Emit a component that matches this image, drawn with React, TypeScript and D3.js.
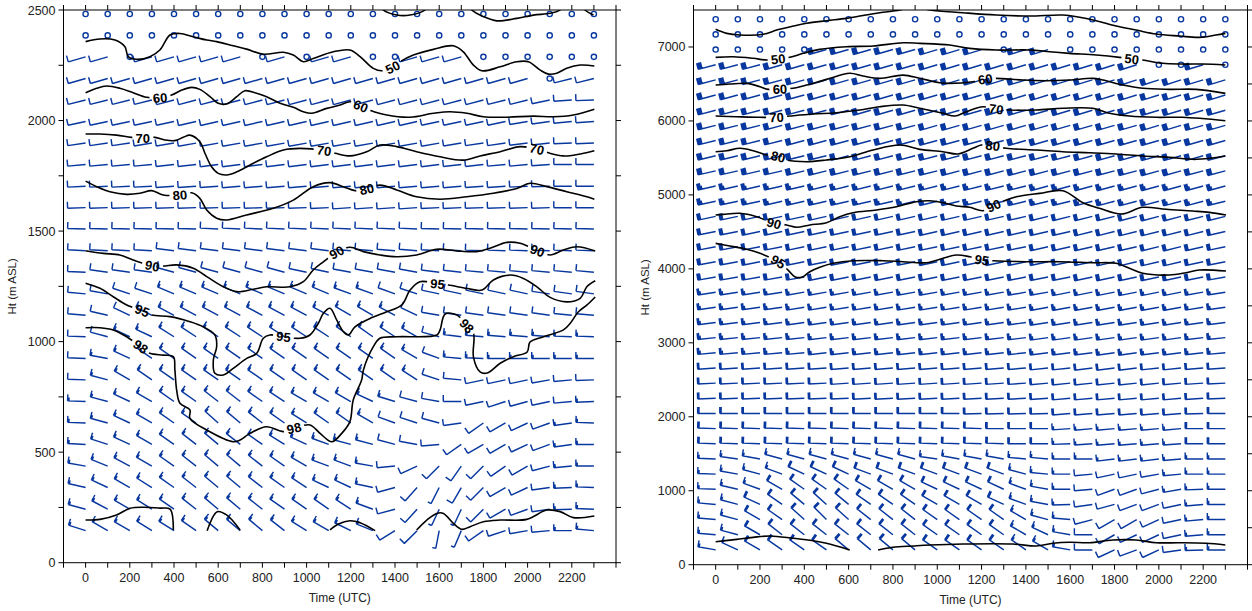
import React from 'react';
import * as d3 from 'd3';

const W = 1252, H = 611;
const TIMES = [0,100,200,300,400,500,600,700,800,900,1000,1100,1200,1300,1400,1500,1600,1700,1800,1900,2000,2100,2200,2300];
const X_LABELS = [0,200,400,600,800,1000,1200,1400,1600,1800,2000,2200];
const L_Y_LABELS = [0,500,1000,1500,2000,2500];
const R_Y_LABELS = [0,1000,2000,3000,4000,5000,6000,7000];

// ---------- Left panel (lower profiler) ----------
const L_HEIGHTS = [145,242,340,437,535,632,729,827,924,1022,1119,1216,1314,1411,1509,1606,1703,1801,1898,1996,2093,2190,2288,2385,2482];
const L_DIR = [
[288,300,300,302,302,305,310,310,310,308,302,300,296,292,238,225,191,203,235,252,260,265,270,275],
[285,298,300,302,305,308,310,310,308,305,305,305,303,290,255,222,205,205,225,240,250,262,268,272],
[283,295,300,302,305,308,310,310,308,305,303,295,295,282,255,222,207,210,225,240,245,262,268,272],
[280,292,298,300,305,308,310,310,308,305,300,290,290,280,265,245,225,215,225,235,240,255,265,270],
[273,288,295,300,305,308,310,308,305,302,295,290,285,285,285,280,265,235,240,240,245,250,262,270],
[272,285,295,300,305,305,312,310,308,305,302,305,305,300,290,288,285,262,235,240,245,250,262,272],
[272,285,295,300,305,305,308,308,305,303,300,300,300,295,287,285,280,270,258,252,255,258,265,268],
[272,285,300,305,305,305,305,305,305,305,305,305,305,305,305,303,288,275,258,258,258,260,265,268],
[272,280,295,305,305,305,305,305,305,305,305,305,305,305,305,300,290,275,272,270,270,270,270,270],
[272,285,295,295,302,303,303,303,303,303,303,303,305,305,303,300,285,277,275,275,275,275,272,272],
[275,283,295,297,298,298,298,298,298,298,298,298,300,300,298,295,280,278,278,278,278,278,276,275],
[275,280,288,288,293,293,293,293,293,293,293,293,290,290,290,288,282,282,282,282,282,278,278,278],
[272,278,278,278,285,285,285,285,285,285,282,282,280,280,280,280,277,276,275,275,275,275,275,275],
[273,273,273,273,277,277,277,277,277,277,277,277,275,275,275,275,273,273,272,272,272,272,272,272],
[272,272,272,272,272,272,273,273,273,273,273,273,273,273,273,273,272,272,272,272,272,272,272,272],
[268,268,268,268,268,268,268,268,268,268,268,267,266,266,266,266,267,267,268,268,268,268,270,270],
[267,267,267,267,266,266,266,265,265,265,265,265,265,265,265,265,265,265,266,266,267,268,270,270],
[265,265,265,265,264,264,263,263,263,263,263,263,263,263,263,263,263,264,264,265,265,266,270,270],
[262,262,262,261,261,260,260,260,260,260,260,260,260,260,260,260,260,261,262,262,263,264,268,268],
[258,258,258,258,258,257,257,257,257,257,257,257,257,257,257,257,258,258,258,258,260,262,264,266],
[256,256,256,256,255,255,255,255,255,255,255,255,255,255,255,255,255,255,255,256,256,258,266,268],
[254,254,254,254,254,254,254,254,254,254,254,254,254,254,254,254,254,254,254,254,254,0,256,256],
[254,254,0,254,254,254,254,254,0,254,0,254,254,0,0,254,254,254,0,0,0,0,0,0],
[0,0,0,0,0,0,0,0,0,0,0,0,0,0,0,0,0,0,0,0,0,0,0,0],
[0,0,0,0,0,0,0,0,0,0,0,0,0,0,0,0,0,0,0,0,0,0,0,0],
];
const L_SPD = [
[15,15,15,15,15,15,15,15,15,15,15,15,15,15,10,10,5,5,10,10,10,10,15,15],
[15,15,15,15,15,15,15,15,15,15,15,15,15,15,10,10,5,5,10,10,10,10,15,15],
[15,15,15,15,15,15,15,15,15,15,15,15,15,15,10,10,5,10,10,10,10,10,15,15],
[15,15,15,15,15,15,15,15,15,15,15,15,15,15,10,10,10,10,10,10,10,10,15,15],
[15,15,15,15,15,15,15,15,15,15,15,15,15,15,10,10,10,10,10,10,10,10,15,15],
[15,15,15,15,15,15,15,15,15,15,15,15,15,15,10,10,10,10,10,10,10,10,15,15],
[15,15,15,15,15,15,15,15,15,15,15,15,15,15,15,10,10,10,10,10,10,10,10,15],
[10,15,15,15,15,15,15,15,15,15,15,15,15,15,15,15,10,10,10,10,10,10,10,10],
[10,15,15,15,15,15,15,15,15,15,15,15,15,15,15,15,10,15,15,15,15,15,15,15],
[10,10,15,15,15,15,15,15,15,15,15,15,15,15,15,15,10,15,15,15,15,15,15,15],
[10,10,10,15,15,15,15,15,15,15,15,15,15,15,15,10,10,10,10,10,10,10,10,10],
[10,10,10,10,15,15,15,15,15,15,15,15,15,15,10,10,10,10,10,10,10,10,10,10],
[10,10,10,10,10,10,10,10,10,10,10,10,10,10,10,10,10,10,10,10,10,10,10,10],
[10,10,10,10,10,10,10,10,10,10,10,10,10,10,10,10,10,10,10,10,10,10,10,10],
[10,10,10,10,10,10,10,10,10,10,10,10,10,10,10,10,10,10,10,10,10,10,10,10],
[10,10,10,10,10,10,10,10,10,10,10,10,10,10,10,10,10,10,10,10,10,10,10,10],
[10,10,10,10,10,10,10,10,10,10,10,10,10,10,10,10,10,10,10,10,10,10,10,10],
[10,10,10,10,10,10,10,10,10,10,10,10,10,10,10,10,10,10,10,10,10,10,10,10],
[10,10,10,10,10,10,10,10,10,10,10,10,10,10,10,10,10,10,10,10,10,10,10,10],
[10,10,10,10,10,10,10,10,10,10,10,10,10,10,10,10,10,10,10,10,10,10,10,10],
[10,10,10,10,10,10,10,10,10,10,10,10,10,10,10,10,10,10,10,10,10,10,10,10],
[10,10,10,10,10,10,10,10,10,10,10,10,10,10,10,10,10,10,10,10,10,0,10,10],
[10,10,0,10,10,10,10,10,0,10,0,10,10,0,0,10,10,10,0,0,0,0,0,0],
[0,0,0,0,0,0,0,0,0,0,0,0,0,0,0,0,0,0,0,0,0,0,0,0],
[0,0,0,0,0,0,0,0,0,0,0,0,0,0,0,0,0,0,0,0,0,0,0,0],
];

// Left contours [time, height]
const L_C40A = [[1332,2523],[1347,2500],[1408,2477],[1468,2477],[1536,2500],[1550,2523]];
const L_C40B = [[1731,2523],[1747,2500],[1800,2470],[1861,2451],[1951,2462],[2026,2477],[2102,2485],[2147,2500],[2160,2523]];
const L_C40C = [[2247,2523],[2260,2500],[2298,2477]];
const L_C50 = [[0,2357],[65,2369],[133,2364],[178,2334],[193,2289],[231,2277],[291,2289],[336,2319],[382,2387],[427,2394],[487,2379],[548,2364],[593,2357],[668,2338],[729,2323],[804,2300],[895,2309],[940,2296],[985,2266],[1030,2281],[1121,2311],[1196,2319],[1242,2289],[1302,2236],[1340,2225],[1389,2241],[1423,2266],[1483,2296],[1574,2322],[1664,2338],[1709,2311],[1755,2251],[1793,2225],[1876,2243],[1951,2266],[2004,2266],[2057,2228],[2094,2210],[2132,2214],[2177,2236],[2238,2251],[2302,2247]];
const L_C60 = [[0,2126],[50,2146],[95,2156],[155,2146],[215,2126],[276,2105],[337,2103],[389,2115],[435,2138],[480,2150],[517,2141],[563,2108],[600,2078],[638,2075],[684,2108],[721,2135],[774,2123],[819,2108],[880,2078],[940,2060],[985,2040],[1023,2033],[1091,2055],[1151,2070],[1196,2085],[1245,2065],[1287,2047],[1363,2025],[1468,2015],[1574,2033],[1649,2040],[1725,2033],[1800,2017],[1906,2015],[2026,2020],[2117,2017],[2207,2025],[2302,2051]];
const L_C70 = [[0,1939],[65,1939],[140,1934],[208,1924],[259,1921],[314,1924],[359,1912],[404,1909],[442,1924],[472,1934],[517,1904],[540,1852],[570,1791],[600,1761],[638,1754],[684,1768],[744,1799],[819,1836],[895,1867],[970,1874],[1079,1864],[1129,1852],[1196,1840],[1272,1859],[1332,1889],[1408,1882],[1498,1859],[1604,1836],[1709,1821],[1785,1840],[1876,1859],[1966,1882],[2042,1871],[2094,1854],[2162,1840],[2238,1849],[2302,1863]];
const L_C80 = [[0,1726],[50,1701],[110,1678],[186,1666],[246,1671],[299,1683],[351,1663],[427,1663],[480,1673],[517,1648],[548,1595],[593,1558],[638,1550],[729,1573],[849,1603],[940,1640],[1030,1701],[1106,1719],[1166,1701],[1219,1683],[1272,1690],[1332,1708],[1408,1686],[1498,1655],[1604,1644],[1725,1655],[1845,1671],[1951,1693],[2011,1716],[2087,1701],[2177,1678],[2268,1655],[2302,1644]];
const L_C90 = [[0,1411],[80,1399],[155,1392],[215,1369],[302,1343],[351,1342],[412,1347],[487,1332],[548,1294],[623,1248],[684,1226],[759,1237],[819,1248],[925,1248],[985,1271],[1030,1324],[1076,1361],[1136,1404],[1196,1427],[1257,1407],[1332,1392],[1408,1384],[1498,1392],[1589,1418],[1680,1410],[1770,1407],[1830,1422],[1906,1449],[1966,1445],[2045,1411],[2102,1392],[2162,1414],[2223,1429],[2306,1410]];
const L_C95 = [[0,1264],[65,1241],[125,1203],[186,1166],[256,1140],[299,1120],[382,1113],[472,1090],[532,1067],[585,1030],[593,977],[578,917],[585,857],[623,849],[668,879],[729,924],[774,947],[804,1015],[834,1030],[895,1022],[970,1015],[1015,1030],[1053,1083],[1076,1128],[1106,1151],[1136,1098],[1166,1045],[1189,1030],[1219,1067],[1287,1105],[1363,1135],[1431,1166],[1468,1233],[1513,1271],[1592,1261],[1641,1256],[1725,1241],[1793,1233],[1845,1279],[1921,1301],[1981,1286],[2042,1248],[2102,1200],[2177,1180],[2238,1196],[2268,1248],[2306,1275]];
const L_C98 = [[0,1063],[65,1063],[125,1053],[186,1022],[249,977],[291,947],[351,939],[397,932],[404,872],[412,781],[427,721],[472,691],[472,653],[548,600],[668,547],[699,555],[744,585],[819,615],[895,593],[943,608],[1015,623],[1061,585],[1114,547],[1159,585],[1196,638],[1211,736],[1249,826],[1257,872],[1302,977],[1332,1015],[1408,1022],[1590,1030],[1604,1053],[1627,1125],[1681,1120],[1725,1071],[1755,1038],[1755,930],[1785,863],[1817,858],[1876,902],[1936,932],[1998,953],[2011,998],[2072,1022],[2162,1053],[2193,1083],[2229,1134],[2269,1166],[2306,1202]];
const L_CB1 = [[0,193],[65,196],[140,216],[201,246],[261,251],[336,247],[382,242],[397,148]];
const L_CB2 = [[550,145],[596,231],[638,216],[699,148]];
const L_CB3 = [[1106,148],[1144,175],[1196,190],[1242,181],[1310,145]];
const L_CB4 = [[1498,148],[1544,193],[1589,223],[1619,223],[1664,178],[1702,151],[1740,163],[1800,185],[1876,193],[1996,196],[2087,238],[2147,231],[2207,204],[2302,211]];

// ---------- Right panel (upper profiler) ----------
const R_HEIGHTS = [200,405,610,815,1020,1225,1430,1635,1840,2045,2250,2455,2660,2865,3070,3275,3480,3685,3890,4095,4300,4505,4710,4915,5120,5325,5530,5735,5940,6145,6350,6555,6760,6965,7170,7375];
const R_DIR = [
[280,295,300,305,305,305,310,310,310,310,305,305,305,305,305,300,280,270,245,250,245,262,268,270],
[275,285,300,308,308,308,308,308,308,308,305,305,305,305,300,295,280,270,240,245,245,258,265,270],
[275,285,300,305,312,315,312,308,308,308,305,305,305,305,300,285,275,255,240,240,245,258,265,270],
[275,285,295,305,310,312,310,305,305,305,300,300,300,295,290,280,268,262,255,250,250,258,265,270],
[272,283,290,300,305,305,305,300,300,300,295,295,295,295,290,280,270,265,250,250,255,260,268,270],
[272,280,285,290,295,295,295,290,290,290,290,290,290,290,285,275,270,265,258,258,260,265,270,270],
[272,278,280,285,285,285,285,285,285,285,278,280,280,280,275,275,270,270,263,263,263,265,270,270],
[272,272,272,272,272,272,272,272,272,272,272,272,272,272,270,270,268,266,265,265,265,266,270,270],
[272,272,272,272,272,272,272,272,272,272,272,272,272,270,270,270,266,265,265,265,265,265,270,270],
[270,270,270,270,270,270,270,270,270,270,270,270,268,268,268,268,265,265,265,265,265,265,268,270],
[268,268,268,268,268,268,268,267,267,267,267,267,267,267,267,266,265,265,265,265,265,265,266,268],
[267,267,267,267,267,267,266,266,266,266,266,266,266,266,266,265,264,264,264,264,264,265,266,267],
[266,266,266,266,266,266,265,265,265,265,265,265,265,265,265,264,264,263,263,263,264,264,265,266],
[265,265,265,265,265,264,264,264,264,264,264,264,264,264,264,263,263,263,262,262,263,263,264,265],
[264,264,264,264,264,263,263,263,263,263,263,263,263,263,263,262,262,262,262,262,262,262,263,264],
[263,263,263,263,262,262,262,262,262,262,262,262,262,262,262,261,261,261,261,261,261,261,262,263],
[262,262,262,262,261,261,261,261,261,261,261,261,261,261,261,260,260,260,260,260,260,260,261,262],
[261,261,261,261,260,260,260,260,260,260,260,260,260,260,260,260,259,259,259,259,259,259,260,261],
[260,260,260,260,260,259,259,259,259,259,259,259,259,259,259,259,259,258,258,258,258,258,259,260],
[260,260,259,259,259,259,259,259,259,259,258,258,258,258,258,258,258,258,257,257,257,257,258,259],
[259,259,259,259,258,258,258,258,258,258,258,258,258,258,258,257,257,257,257,257,256,256,257,258],
[259,259,258,258,258,258,258,258,258,258,257,257,257,257,257,257,257,256,256,256,256,256,256,257],
[258,258,258,258,258,257,257,257,257,257,257,257,257,257,257,256,256,256,256,255,255,255,256,256],
[258,258,258,257,257,257,257,257,257,256,256,256,256,256,256,256,256,255,255,255,255,255,255,256],
[257,257,257,257,257,256,256,256,256,256,256,256,256,256,256,255,255,255,255,255,255,255,255,255],
[257,257,257,257,256,256,256,256,256,256,256,255,255,255,255,255,255,255,255,255,254,254,255,255],
[256,256,256,256,256,256,255,255,255,255,255,255,255,255,255,255,255,254,254,254,254,254,254,255],
[256,256,256,256,255,255,255,255,255,255,255,255,255,255,254,254,254,254,254,254,254,254,254,254],
[256,256,256,255,255,255,255,255,255,255,254,254,254,254,254,254,254,254,254,254,253,253,254,254],
[255,255,255,255,255,255,255,254,254,254,254,254,254,254,254,254,253,253,253,253,253,253,253,254],
[255,255,255,255,255,254,254,254,254,254,254,254,254,254,253,253,253,253,253,253,253,253,253,253],
[255,255,255,255,254,254,254,254,254,254,254,253,253,253,253,253,253,253,253,252,252,252,253,253],
[255,255,255,254,254,254,254,254,254,254,253,253,253,253,253,253,253,253,252,252,0,0,253,0],
[0,0,0,0,0,254,254,254,254,254,253,253,253,0,253,253,0,0,0,0,0,0,0,0],
[0,0,0,0,0,0,0,0,0,0,0,0,0,0,0,0,0,0,0,0,0,0,0,0],
[0,0,0,0,0,0,0,0,0,0,0,0,0,0,0,0,0,0,0,0,0,0,0,0],
];
const R_SPD = [
[15,15,20,20,20,20,20,20,20,20,20,20,20,20,15,15,15,10,10,10,10,10,15,15],
[15,15,20,20,20,20,20,20,20,20,20,20,20,20,15,15,15,10,10,10,10,10,15,15],
[15,15,20,20,20,20,20,20,20,20,20,20,20,20,15,15,15,10,10,10,10,10,15,15],
[15,15,20,20,20,20,20,20,20,20,20,20,20,20,15,15,15,10,10,10,10,10,15,15],
[15,15,15,20,20,20,20,20,20,20,20,20,20,20,15,15,15,10,10,10,10,15,15,15],
[15,15,15,15,20,20,20,20,20,20,20,20,20,20,15,15,15,10,10,10,10,15,15,15],
[15,15,15,15,15,15,15,15,15,15,15,15,15,15,15,15,15,15,15,15,15,15,15,15],
[20,20,20,20,20,20,20,20,20,20,20,20,20,20,20,20,15,15,15,15,15,15,20,20],
[20,20,20,20,20,20,20,20,20,20,20,20,20,20,20,20,15,15,15,15,15,15,20,20],
[20,20,20,20,20,20,20,20,20,20,20,20,20,20,20,20,20,20,20,20,20,20,20,20],
[20,20,20,20,20,20,20,20,20,20,20,20,20,20,20,20,20,20,20,20,20,20,20,20],
[20,20,20,20,20,20,20,20,20,20,20,20,20,20,20,20,20,20,20,20,20,20,20,20],
[20,20,20,20,20,20,20,20,20,20,20,20,20,20,20,20,20,20,20,20,20,20,20,20],
[25,25,25,25,25,25,25,25,25,25,25,25,25,25,25,25,25,25,25,25,25,25,25,25],
[25,25,25,25,25,25,25,25,25,25,25,25,25,25,25,25,25,25,25,25,25,25,25,25],
[25,25,25,25,25,25,25,25,25,25,25,25,25,25,25,25,25,25,25,25,25,25,25,25],
[25,25,25,25,25,25,25,25,25,25,25,25,25,25,25,25,25,25,25,25,25,25,25,25],
[25,25,25,25,25,25,25,25,25,25,25,25,25,25,25,25,25,25,25,25,25,25,25,25],
[30,30,30,30,30,30,30,30,30,30,30,30,30,30,30,30,30,30,30,30,30,30,30,30],
[30,30,30,30,30,30,30,30,30,30,30,30,30,30,30,30,30,30,30,30,30,30,30,30],
[30,30,30,30,30,30,30,30,30,30,30,30,30,30,30,30,30,30,30,30,30,30,30,30],
[30,30,30,30,30,30,30,30,30,30,30,30,30,30,30,30,30,30,30,30,30,30,30,30],
[30,30,30,30,30,30,30,30,30,30,30,30,30,30,30,30,30,30,30,30,30,30,30,30],
[35,35,35,35,35,35,35,35,35,35,35,35,35,35,35,35,35,35,35,35,35,35,35,35],
[35,35,35,35,35,35,35,35,35,35,35,35,35,35,35,35,35,35,35,35,35,35,35,35],
[40,40,40,40,40,40,40,40,40,40,40,40,40,40,40,40,40,40,40,40,40,40,40,40],
[40,40,40,40,40,40,40,40,40,40,40,40,40,40,40,40,40,40,40,40,40,40,40,40],
[40,40,40,40,40,40,40,40,40,40,40,40,40,40,40,40,40,40,40,40,40,40,40,40],
[40,40,40,40,40,40,40,40,40,40,40,40,40,40,40,40,40,40,40,40,40,40,40,40],
[40,40,40,40,40,40,40,40,40,40,40,40,40,40,40,40,40,40,40,40,40,40,40,40],
[40,40,40,40,40,40,40,40,40,40,40,40,40,40,40,40,40,40,40,40,40,40,40,40],
[40,40,40,40,40,40,40,40,40,40,40,40,40,40,40,40,40,40,40,40,40,40,40,40],
[40,40,40,40,40,40,40,40,40,40,40,40,40,40,40,40,40,40,40,40,0,0,40,0],
[0,0,0,0,0,40,40,40,40,40,40,40,40,0,40,40,0,0,0,0,0,0,0,0],
[0,0,0,0,0,0,0,0,0,0,0,0,0,0,0,0,0,0,0,0,0,0,0,0],
[0,0,0,0,0,0,0,0,0,0,0,0,0,0,0,0,0,0,0,0,0,0,0,0],
];

const R_CTOP = [[0,7239],[50,7184],[110,7162],[215,7171],[275,7229],[350,7283],[410,7320],[500,7355],[590,7387],[650,7418],[740,7463],[831,7500],[898,7553],[966,7500],[1116,7463],[1266,7432],[1417,7418],[1567,7432],[1642,7401],[1717,7355],[1807,7283],[1897,7229],[1988,7175],[2093,7148],[2183,7130],[2258,7162],[2300,7184]];
const R_C50 = [[0,6860],[79,6868],[169,6847],[230,6824],[282,6837],[335,6860],[395,6914],[470,6968],[590,7003],[710,7013],[846,7057],[921,7049],[1056,7026],[1146,6981],[1266,6959],[1417,6959],[1507,6936],[1597,6914],[1717,6891],[1822,6860],[1878,6837],[1927,6824],[2017,6779],[2107,6769],[2198,6769],[2300,6756]];
const R_C60 = [[0,6485],[64,6499],[140,6508],[200,6463],[237,6427],[290,6432],[350,6441],[410,6485],[500,6562],[605,6644],[665,6607],[740,6576],[846,6620],[921,6576],[1011,6517],[1056,6508],[1161,6530],[1217,6567],[1266,6576],[1386,6553],[1492,6544],[1597,6553],[1702,6576],[1747,6553],[1837,6485],[1927,6441],[2047,6427],[2168,6427],[2300,6373]];
const R_C70 = [[0,6066],[95,6057],[200,6049],[275,6049],[335,6066],[440,6093],[545,6111],[650,6148],[740,6192],[846,6215],[921,6171],[1026,6103],[1079,6066],[1131,6125],[1206,6192],[1266,6161],[1326,6148],[1447,6148],[1567,6171],[1702,6171],[1777,6103],[1867,6066],[1988,6049],[2107,6049],[2300,6003]];
const R_C80 = [[0,5584],[50,5597],[110,5630],[169,5597],[230,5539],[282,5516],[320,5472],[410,5449],[500,5472],[605,5516],[710,5607],[831,5674],[921,5616],[1026,5584],[1093,5553],[1161,5630],[1199,5674],[1251,5665],[1312,5630],[1447,5607],[1567,5584],[1687,5570],[1807,5553],[1927,5526],[2047,5508],[2168,5481],[2300,5526]];
const R_C90 = [[0,4728],[34,4737],[110,4751],[185,4705],[263,4616],[320,4593],[365,4562],[425,4593],[500,4624],[560,4705],[620,4759],[726,4796],[816,4840],[906,4908],[966,4921],[1026,4894],[1086,4850],[1146,4832],[1206,4786],[1254,4854],[1312,4931],[1357,4975],[1462,5021],[1567,5057],[1657,4894],[1732,4819],[1830,4741],[1927,4832],[2033,4805],[2153,4782],[2228,4764],[2303,4728]];
const R_C95 = [[0,4345],[64,4309],[140,4264],[200,4210],[282,4097],[327,3984],[357,3894],[388,3886],[425,3961],[470,4021],[530,4075],[620,4110],[755,4110],[846,4097],[951,4083],[1026,4143],[1086,4187],[1146,4164],[1201,4120],[1251,4110],[1402,4097],[1552,4097],[1702,4083],[1807,4075],[1867,4007],[1927,3940],[2047,3917],[2123,3948],[2183,3984],[2303,3971]];
const R_CB1 = [[0,311],[95,343],[169,370],[245,388],[350,357],[440,324],[500,289],[605,199]];
const R_CB2 = [[733,199],[800,235],[891,253],[966,266],[1116,280],[1341,280],[1447,253],[1522,289],[1597,303],[1687,297],[1792,334],[1897,334],[1988,297],[2093,297],[2213,289],[2300,266]];

const LEFT_CONTOURS = [
  { pts: L_C40A, text: '', labels: [] },
  { pts: L_C40B, text: '', labels: [] },
  { pts: L_C40C, text: '', labels: [] },
  { pts: L_C50, text: '50', labels: [[1389,2241]] },
  { pts: L_C60, text: '60', labels: [[337,2103],[1245,2065]] },
  { pts: L_C70, text: '70', labels: [[259,1921],[1079,1864],[2042,1871]] },
  { pts: L_C80, text: '80', labels: [[427,1663],[1272,1690]] },
  { pts: L_C90, text: '90', labels: [[302,1343],[1136,1404],[2045,1411]] },
  { pts: L_C95, text: '95', labels: [[256,1140],[895,1022],[1592,1261]] },
  { pts: L_C98, text: '98', labels: [[249,977],[943,608],[1725,1071]] },
  { pts: L_CB1, text: '', labels: [] },
  { pts: L_CB2, text: '', labels: [] },
  { pts: L_CB3, text: '', labels: [] },
  { pts: L_CB4, text: '', labels: [] },
];
const RIGHT_CONTOURS = [
  { pts: R_CTOP, text: '', labels: [] },
  { pts: R_C50, text: '50', labels: [[282,6837],[1878,6837]] },
  { pts: R_C60, text: '60', labels: [[290,6432],[1217,6567]] },
  { pts: R_C70, text: '70', labels: [[275,6049],[1266,6161]] },
  { pts: R_C80, text: '80', labels: [[282,5516],[1251,5665]] },
  { pts: R_C90, text: '90', labels: [[263,4616],[1254,4854]] },
  { pts: R_C95, text: '95', labels: [[282,4097],[1201,4120]] },
  { pts: R_CB1, text: '', labels: [] },
  { pts: R_CB2, text: '', labels: [] },
];

const BARB_COLOR = '#08389f';
const FONT = 'Arial, "Liberation Sans", Helvetica, sans-serif';

function barbD(sx, sy, dir, spd) {
  const r = (dir * Math.PI) / 180;
  const ux = Math.sin(r), uy = -Math.cos(r);
  const fx = -uy, fy = ux;
  const L = 18, FL = 6.5, SP = 1.3;
  const ex = sx + L * ux, ey = sy + L * uy;
  const f = (v) => v.toFixed(2);
  let d = `M${f(sx)},${f(sy)}L${f(ex)},${f(ey)}`;
  const n10 = Math.floor(spd / 10);
  const half = spd - n10 * 10 >= 5;
  let pos = 0;
  for (let k = 0; k < n10; k++) {
    const bx = ex - pos * ux, by = ey - pos * uy;
    d += `M${f(bx)},${f(by)}l${f(FL * fx)},${f(FL * fy)}`;
    pos += SP;
  }
  if (half) {
    const bx = ex - pos * ux, by = ey - pos * uy;
    d += `M${f(bx)},${f(by)}l${f(FL * 0.55 * fx)},${f(FL * 0.55 * fy)}`;
  }
  return d;
}

function Panel({ id, x0, x1, y0, y1, hMax, heights, dirs, spds, contours, yLabels, yTicksLeft, yTicksRight, titleX }) {
  const x = d3.scaleLinear().domain([-100, 2400]).range([x0, x1]);
  const y = d3.scaleLinear().domain([0, hMax]).range([y1, y0]);
  const line = d3.line().x((d) => x(d[0])).y((d) => y(d[1])).curve(d3.curveCatmullRom.alpha(0.5));

  let barbPath = '';
  const calms = [];
  heights.forEach((h, i) => {
    TIMES.forEach((t, j) => {
      const s = spds[i][j];
      const sx = x(t), sy = y(h);
      if (s === 0) calms.push([sx, sy]);
      else barbPath += barbD(sx, sy, dirs[i][j], s);
    });
  });

  const labels = [];
  contours.forEach((c) => {
    c.labels.forEach((l) => {
      const lx = x(l[0]), ly = y(l[1]);
      let bi = 0, bd = Infinity;
      c.pts.forEach((p, i) => {
        const dd = (x(p[0]) - lx) ** 2 + (y(p[1]) - ly) ** 2;
        if (dd < bd) { bd = dd; bi = i; }
      });
      const a = c.pts[Math.max(0, bi - 1)], b = c.pts[Math.min(c.pts.length - 1, bi + 1)];
      let ang = (Math.atan2(y(b[1]) - y(a[1]), x(b[0]) - x(a[0])) * 180) / Math.PI;
      if (ang > 90) ang -= 180;
      if (ang < -90) ang += 180;
      labels.push({ lx, ly, ang, text: c.text });
    });
  });

  const xt = d3.range(-100, 2401, 100);
  return (
    <g>
      <defs>
        <clipPath id={id + 'clip'}>
          <rect x={x0} y={y0} width={x1 - x0} height={y1 - y0} />
        </clipPath>
        <mask id={id + 'mask'} maskUnits="userSpaceOnUse" x={0} y={0} width={W} height={H}>
          <rect x={0} y={0} width={W} height={H} fill="white" />
          {labels.map((l, i) => (
            <rect key={i} x={-10.5} y={-6.5} width={21} height={13} fill="black"
              transform={`translate(${l.lx},${l.ly}) rotate(${l.ang})`} />
          ))}
        </mask>
      </defs>
      <path d={barbPath} fill="none" stroke={BARB_COLOR} strokeWidth={1.45} />
      {calms.map((c, i) => (
        <circle key={i} cx={c[0]} cy={c[1]} r={2.6} fill="none" stroke={BARB_COLOR} strokeWidth={1.4} />
      ))}
      <g clipPath={`url(#${id}clip)`}>
        <g mask={`url(#${id}mask)`}>
          {contours.map((c, i) => (
            <path key={i} d={line(c.pts)} fill="none" stroke="#000" strokeWidth={1.6} />
          ))}
        </g>
      </g>
      {labels.map((l, i) => (
        <text key={i} transform={`translate(${l.lx},${l.ly}) rotate(${l.ang})`} textAnchor="middle" dy="0.36em"
          fontFamily={FONT} fontWeight="bold" fontSize={13} fill="#000">{l.text}</text>
      ))}
      <rect x={x0} y={y0} width={x1 - x0} height={y1 - y0} fill="none" stroke="#000" strokeWidth={1} />
      {xt.map((t) => (
        <g key={'xt' + t}>
          <line x1={x(t)} x2={x(t)} y1={y1} y2={y1 + 5} stroke="#000" />
          <line x1={x(t)} x2={x(t)} y1={y0} y2={y0 - 5} stroke="#000" />
        </g>
      ))}
      {X_LABELS.map((t) => (
        <text key={'xl' + t} x={x(t)} y={y1 + 19} textAnchor="middle" fontFamily={FONT} fontSize={12.5} fill="#222">{t}</text>
      ))}
      {yTicksLeft.map((h) => (
        <line key={'yl' + h} x1={x0 - 5} x2={x0} y1={y(h)} y2={y(h)} stroke="#000" />
      ))}
      {yTicksRight.map((h) => (
        <line key={'yr' + h} x1={x1} x2={x1 + 5} y1={y(h)} y2={y(h)} stroke="#000" />
      ))}
      {yLabels.map((h) => (
        <text key={'ylab' + h} x={x0 - 8} y={y(h)} dy="0.36em" textAnchor="end" fontFamily={FONT} fontSize={12.5} fill="#222">{h}</text>
      ))}
      <text x={(x0 + x1) / 2} y={y1 + 39} textAnchor="middle" fontFamily={FONT} fontSize={12} fill="#222">Time (UTC)</text>
      <text transform={`translate(${titleX},${(y0 + y1) / 2}) rotate(-90)`} textAnchor="middle" fontFamily={FONT} fontSize={11.5} fill="#222">Ht (m ASL)</text>
    </g>
  );
}

export default function App() {
  return (
    <svg width={W} height={H} viewBox={`0 0 ${W} ${H}`}
      style={{ position: 'absolute', left: 0, top: 0, background: '#fff', display: 'block' }}>
      <rect x={0} y={0} width={W} height={H} fill="#fff" />
      <Panel id="L" x0={63.5} x1={616} y0={10} y1={562.7} hMax={2500}
        heights={L_HEIGHTS} dirs={L_DIR} spds={L_SPD} contours={LEFT_CONTOURS}
        yLabels={L_Y_LABELS} yTicksLeft={d3.range(0, 2501, 250)} yTicksRight={d3.range(0, 2501, 250)} titleX={16} />
      <Panel id="R" x0={693.5} x1={1247.5} y0={10} y1={564.7} hMax={7500}
        heights={R_HEIGHTS} dirs={R_DIR} spds={R_SPD} contours={RIGHT_CONTOURS}
        yLabels={R_Y_LABELS} yTicksLeft={d3.range(0, 7001, 1000)} yTicksRight={d3.range(0, 7501, 500)} titleX={649} />
    </svg>
  );
}
